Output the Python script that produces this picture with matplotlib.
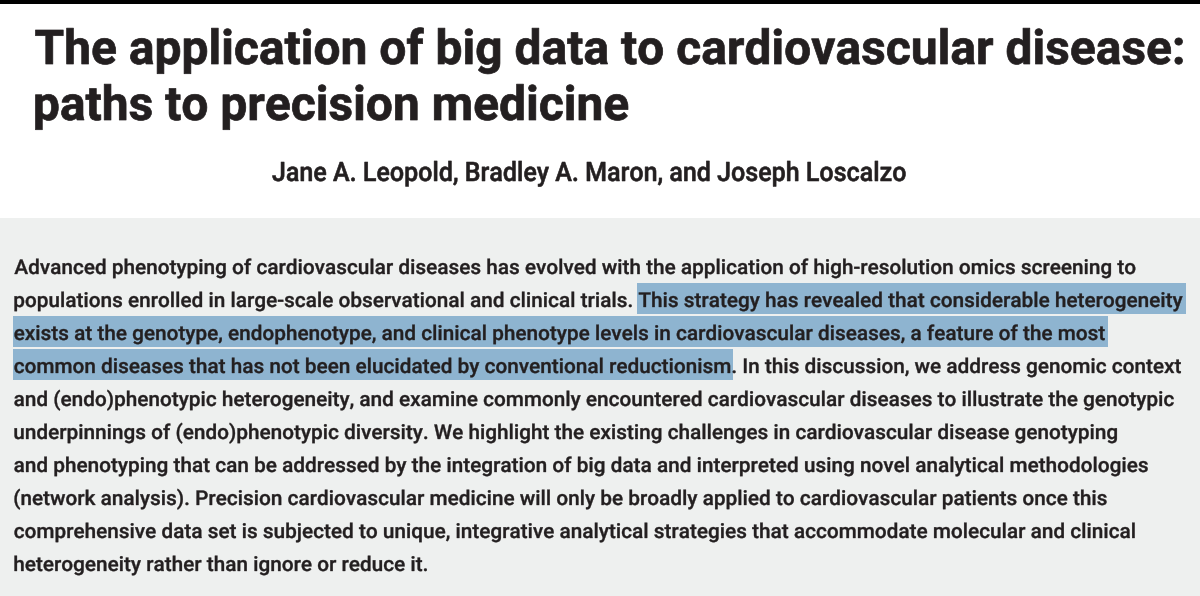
import matplotlib
matplotlib.use("Agg")
import matplotlib.pyplot as plt
from matplotlib.font_manager import FontProperties
from matplotlib.patches import PathPatch, Rectangle
from matplotlib.textpath import TextPath
from matplotlib.transforms import Affine2D

W, H = 1200, 596

TITLE_LINES = [
    "The application of big data to cardiovascular disease:",
    "paths to precision medicine",
]
AUTHORS = "Jane A. Leopold, Bradley A. Maron, and Joseph Loscalzo"
ABSTRACT_LINES = [
    "Advanced phenotyping of cardiovascular diseases has evolved with the application of high-resolution omics screening to",
    "populations enrolled in large-scale observational and clinical trials. This strategy has revealed that considerable heterogeneity",
    "exists at the genotype, endophenotype, and clinical phenotype levels in cardiovascular diseases, a feature of the most",
    "common diseases that has not been elucidated by conventional reductionism. In this discussion, we address genomic context",
    "and (endo)phenotypic heterogeneity, and examine commonly encountered cardiovascular diseases to illustrate the genotypic",
    "underpinnings of (endo)phenotypic diversity. We highlight the existing challenges in cardiovascular disease genotyping",
    "and phenotyping that can be addressed by the integration of big data and interpreted using novel analytical methodologies",
    "(network analysis). Precision cardiovascular medicine will only be broadly applied to cardiovascular patients once this",
    "comprehensive data set is subjected to unique, integrative analytical strategies that accommodate molecular and clinical",
    "heterogeneity rather than ignore or reduce it.",
]
# the sentence marked in blue
HIGHLIGHT = (
    "This strategy has revealed that considerable heterogeneity exists at the genotype, "
    "endophenotype, and clinical phenotype levels in cardiovascular diseases, a feature of the most "
    "common diseases that has not been elucidated by conventional reductionism"
)

INK = "#231f20"
PANEL = "#eef0ef"
MARK = "#8eb4d0"

TITLE_FONT = FontProperties(family="Roboto", weight="bold")
AUTHOR_FONT = FontProperties(family="Roboto", weight="medium")
BODY_FONT = FontProperties(family="Roboto", weight="medium")


def raw_path(s, fp):
    return TextPath((0, 0), s, size=100, prop=fp)


def ink_width(s, fp):
    return raw_path(s, fp).get_extents().width


def fit_scale(fp, cap_px, ref_text, width_px):
    # the source face is condensed, so squeeze x separately from y
    sy = cap_px / raw_path("H", fp).get_extents().height
    sx = width_px / ink_width(ref_text, fp)
    return sx, sy


def draw_text(ax, s, fp, sx, sy, x_left, baseline, weight_lw=0.0, zorder=3):
    path = raw_path(s, fp)
    ext = path.get_extents()
    tr = Affine2D().translate(-ext.x0, 0).scale(sx, -sy).translate(x_left, baseline)
    # a thin outline of the same colour thickens the strokes a little
    ax.add_patch(PathPatch(tr.transform_path(path), facecolor=INK,
                           edgecolor=INK if weight_lw else "none",
                           lw=weight_lw, joinstyle="round", zorder=zorder))
    return x_left, x_left + ext.width * sx


def main():
    fig = plt.figure(figsize=(W / 100, H / 100), dpi=100)
    ax = fig.add_axes([0, 0, 1, 1])
    ax.set_xlim(0, W)
    ax.set_ylim(H, 0)
    ax.axis("off")

    ax.add_patch(Rectangle((0, 0), W, 4, facecolor="black", lw=0, zorder=1))
    ax.add_patch(Rectangle((0, 218), W, H - 218, facecolor=PANEL, lw=0, zorder=1))

    # title
    sx, sy = fit_scale(TITLE_FONT, 34, TITLE_LINES[0], 1147)
    for i, line in enumerate(TITLE_LINES):
        draw_text(ax, line, TITLE_FONT, sx, sy, 35.5, 64 + 56 * i, weight_lw=0.5)

    # authors, centred
    sx, sy = fit_scale(AUTHOR_FONT, 19, AUTHORS, 633)
    w = ink_width(AUTHORS, AUTHOR_FONT) * sx
    draw_text(ax, AUTHORS, AUTHOR_FONT, sx, sy, 589 - w / 2, 181, weight_lw=0.4)

    # abstract
    widest = max(ABSTRACT_LINES, key=lambda s: ink_width(s, BODY_FONT))
    sx, sy = fit_scale(BODY_FONT, 14.5, widest, 1168)
    joined = " ".join(ABSTRACT_LINES)
    h0 = joined.find(HIGHLIGHT)
    h1 = h0 + len(HIGHLIGHT)
    pos = 0
    for i, line in enumerate(ABSTRACT_LINES):
        base = 274 + 33 * i
        left, right = draw_text(ax, line, BODY_FONT, sx, sy, 14.5, base, weight_lw=0.25)
        a = max(h0, pos) - pos
        b = min(h1, pos + len(line)) - pos
        if a < b:
            x0 = left if a == 0 else right - ink_width(line[a:], BODY_FONT) * sx
            x1 = right if b == len(line) else left + ink_width(line[:b], BODY_FONT) * sx
            ax.add_patch(Rectangle((x0 - 2, base - 24), x1 - x0 + 5, 31,
                                   facecolor=MARK, lw=0, zorder=2))
        pos += len(line) + 1

    fig.savefig("out.png", dpi=100, facecolor="white")
    plt.close(fig)


if __name__ == "__main__":
    main()
